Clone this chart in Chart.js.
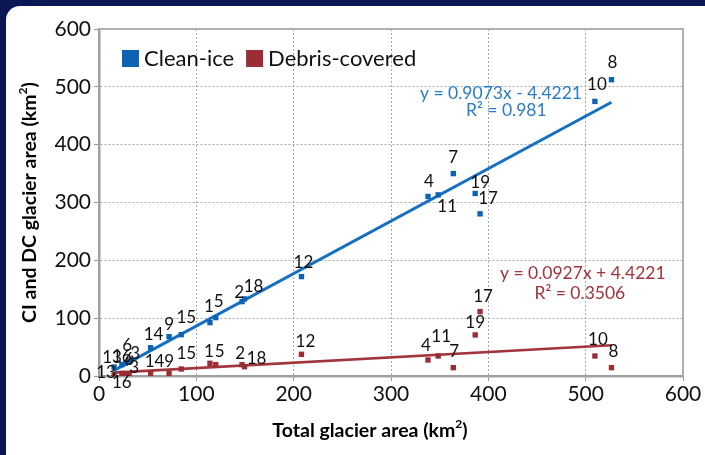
<!DOCTYPE html>
<html><head><meta charset="utf-8">
<script src="https://cdn.jsdelivr.net/npm/chart.js@4"></script>
<style>
html,body{margin:0;padding:0;background:#0b1655;width:705px;height:455px;overflow:hidden}
#card{position:absolute;left:6px;top:6px;width:715px;height:465px;background:#fff;border-radius:14px}
#wrap{position:absolute;left:0;top:0;width:705px;height:455px}
</style></head><body>
<div id="card"></div>
<div id="wrap"><canvas id="c" width="705" height="455"></canvas></div>
<script>
// ---- data ----
const glacierIds    = ['1','2','3','4','5','6','7','8','9','10','11','12','13','14','15','16','17','18','19'];
const totalArea     = [114, 147, 31, 338, 120, 27, 364, 526.5, 72, 509.5, 348.5, 208, 15.5, 53, 84.5, 23.5, 391.5, 149.5, 386.5];
const cleanIce      = [92.3, 128.6, 25, 310.4, 101, 22, 350, 512.3, 68, 474.8, 313.2, 171.9, 15.5, 49, 71.5, 19.5, 280.4, 133.3, 315.6];
const debrisCovered = [22, 19.6, 4, 27.7, 19.6, 4, 14.4, 14.4, 4.6, 34.6, 34.6, 37.5, 0.5, 4.6, 12.1, 4.5, 111.3, 16.1, 71];
const xTicks = [0, 100, 200, 300, 400, 500, 600];
const yTicks = [0, 100, 200, 300, 400, 500, 600];
const seriesNames = ['Clean-ice', 'Debris-covered'];
// trend line end points as drawn in the reference
const ciTrendX = [15, 526.5];
const ciTrendY = [9.2, 473.3];
const dcTrendX = [15, 526.5];
const dcTrendY = [5.8, 53.2];
const ciEquation = ['y = 0.9073x - 4.4221', 'R² = 0.981'];
const dcEquation = ['y = 0.0927x + 4.4221', 'R² = 0.3506'];

// ---- styling / label placement ----
const BLUE = '#0c63b4', BLUE_LINE = '#1670c2', BLUE_TXT = '#2a7cc6';
const RED = '#9b2d34', RED_LINE = '#a2353b', RED_TXT = '#a0343b';
const FONT = 'Lato, "Open Sans", sans-serif';
// pixel offsets of point labels [dx, dy], per glacier in id order
const ciLabelOff = [[-1,-16],[-3,-9],[6,-8],[1,-15],[3,-16],[2,-18],[0,-16],[1,-17],[0,-12],[2,-17],[9,12],[2,-14],[-2,-10],[3,-13],[5,-17],[0,-8],[8,-15],[9,-12],[5,-11]];
const dcLabelOff = [[-1,-12],[-2,-11],[5,-6],[-2,-14],[4,-13],[4,-14],[1,-16],[2,-16],[0,-12],[3,-16],[3,-19],[4,-13],[-8,-3],[4,-12],[5,-15],[0,9],[3,-15],[12,-8],[0,-12]];

const pts = (xs, ys) => xs.map((x, i) => ({x: x, y: ys[i]}));

const overlay = {
  id: 'overlay',
  beforeDatasetsDraw(chart) {
    const {ctx, chartArea: a} = chart;
    ctx.save();
    ctx.strokeStyle = '#b0b0b0';
    ctx.lineWidth = 2;
    ctx.beginPath();
    ctx.moveTo(a.left, a.top); ctx.lineTo(a.right, a.top); ctx.lineTo(a.right, a.bottom);
    ctx.stroke();
    ctx.restore();
  },
  afterDatasetsDraw(chart) {
    const {ctx, chartArea: a} = chart;
    const xs = chart.scales.x, ys = chart.scales.y;
    ctx.save();
    ctx.fillStyle = '#111';
    ctx.font = '17px ' + FONT;
    ctx.textAlign = 'center';
    ctx.textBaseline = 'middle';
    [[0, ciLabelOff], [1, dcLabelOff]].forEach(([di, off]) => {
      chart.getDatasetMeta(di).data.forEach((el, i) => {
        ctx.fillText(glacierIds[i], el.x + off[i][0], el.y + off[i][1]);
      });
    });
    // equations
    ctx.font = '17.5px ' + FONT;
    ctx.fillStyle = BLUE_TXT;
    ctx.fillText(ciEquation[0], xs.getPixelForValue(413), ys.getPixelForValue(489));
    ctx.fillText(ciEquation[1], xs.getPixelForValue(418.5), ys.getPixelForValue(460));
    ctx.fillStyle = RED_TXT;
    ctx.fillText(dcEquation[0], xs.getPixelForValue(497), ys.getPixelForValue(178));
    ctx.fillText(dcEquation[1], xs.getPixelForValue(494), ys.getPixelForValue(143));
    // legend
    ctx.font = '22px ' + FONT;
    ctx.textAlign = 'left';
    let lx = a.left + 23;
    const ly = a.top + 29;
    [[BLUE, seriesNames[0]], [RED, seriesNames[1]]].forEach(([c, t]) => {
      ctx.fillStyle = c;
      ctx.fillRect(lx, ly - 8, 17, 17);
      ctx.fillStyle = '#111';
      ctx.fillText(t, lx + 22, ly + 1);
      lx += 22 + ctx.measureText(t).width + 12;
    });
    // axis titles
    const sup = 'bold 12px ' + FONT;
    function titleWithSup(before, after) {
      ctx.font = 'bold 19.5px ' + FONT;
      const w1 = ctx.measureText(before).width, w3 = ctx.measureText(after).width;
      ctx.font = sup; const w2 = ctx.measureText('2').width;
      const tot = w1 + w2 + w3;
      ctx.textAlign = 'left';
      ctx.font = 'bold 19.5px ' + FONT; ctx.fillText(before, -tot / 2, 0);
      ctx.font = sup; ctx.fillText('2', -tot / 2 + w1, -7);
      ctx.font = 'bold 19.5px ' + FONT; ctx.fillText(after, -tot / 2 + w1 + w2, 0);
    }
    ctx.fillStyle = '#000';
    ctx.save();
    ctx.translate((a.left + a.right) / 2 - 21, a.bottom + 55);
    titleWithSup('Total glacier area (km', ')');
    ctx.restore();
    ctx.save();
    ctx.translate(30, (a.top + a.bottom) / 2);
    ctx.rotate(-Math.PI / 2);
    titleWithSup('CI and DC glacier area (km', ')');
    ctx.restore();
    ctx.restore();
  }
};

new Chart(document.getElementById('c'), {
  type: 'scatter',
  data: {
    datasets: [
      {label: seriesNames[0], data: pts(totalArea, cleanIce), pointStyle: 'rect', pointRadius: 3.8, backgroundColor: BLUE, borderWidth: 0, order: 1},
      {label: seriesNames[1], data: pts(totalArea, debrisCovered), pointStyle: 'rect', pointRadius: 3.8, backgroundColor: RED, borderWidth: 0, order: 1},
      {label: 'ci trend', data: pts(ciTrendX, ciTrendY), showLine: true, borderColor: BLUE_LINE, borderWidth: 3, pointRadius: 0, order: 2},
      {label: 'dc trend', data: pts(dcTrendX, dcTrendY), showLine: true, borderColor: RED_LINE, borderWidth: 2.6, pointRadius: 0, order: 2}
    ]
  },
  options: {
    responsive: false,
    animation: false,
    layout: {padding: {top: 29, right: 22, left: 0, bottom: 0}},
    plugins: {legend: {display: false}, tooltip: {enabled: false}},
    scales: {
      x: {
        type: 'linear', min: 0, max: 600,
        afterBuildTicks: s => { s.ticks = xTicks.map(v => ({value: v})); },
        afterFit: s => { s.height = 79; },
        grid: {color: '#a8a8a8', lineWidth: 1, tickLength: 5, tickColor: '#999', tickBorderDash: [], drawOnChartArea: true},
        border: {color: '#a0a0a0', width: 2.5, dash: [2, 2]},
        ticks: {color: '#111', font: {family: FONT, size: 21}, padding: 1, maxRotation: 0}
      },
      y: {
        type: 'linear', min: 0, max: 600,
        afterBuildTicks: s => { s.ticks = yTicks.map(v => ({value: v})); },
        afterFit: s => { s.width = 99; },
        grid: {color: '#a8a8a8', lineWidth: 1, tickLength: 5, tickColor: '#999', tickBorderDash: []},
        border: {color: '#a0a0a0', width: 2.5, dash: [2, 2]},
        ticks: {color: '#111', font: {family: FONT, size: 21}, padding: 3}
      }
    }
  },
  plugins: [overlay]
});
</script>
</body></html>
